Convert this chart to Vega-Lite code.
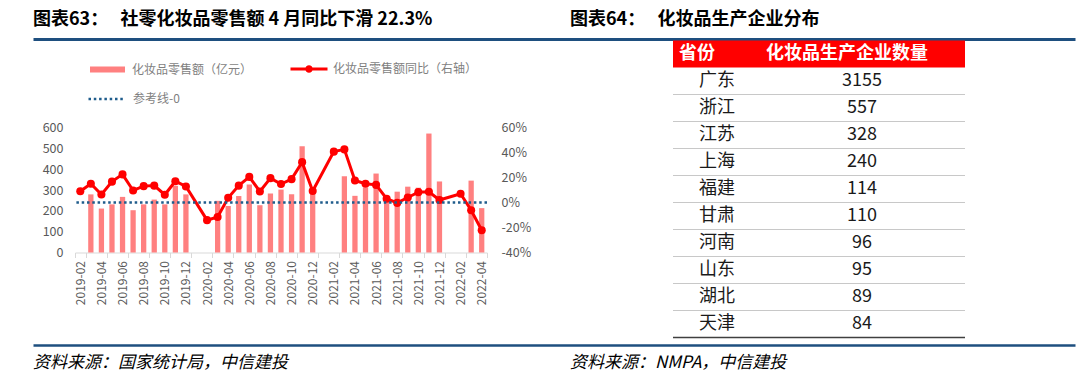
{
  "$schema": "https://vega.github.io/schema/vega-lite/v6.json",
  "background": "white",
  "padding": {"left": 33, "top": 0, "right": 5, "bottom": 0},
  "columns": 1,
  "align": "none",
  "spacing": 1.5,
  "bounds": "full",
  "config": {
    "view": {"stroke": null},
    "font": "Noto Sans CJK SC",
    "axis": {"labelFont": "Noto Sans CJK SC", "grid": false},
    "legend": {"labelFont": "Noto Sans CJK SC"}
  },
  "datasets": {
    "sales": [
      {"month": "2019-02", "sales": null, "yoy": 9.0},
      {"month": "2019-03", "sales": 279, "yoy": 15.0},
      {"month": "2019-04", "sales": 211, "yoy": 6.4},
      {"month": "2019-05", "sales": 231, "yoy": 16.7},
      {"month": "2019-06", "sales": 267, "yoy": 22.5},
      {"month": "2019-07", "sales": 203, "yoy": 9.6},
      {"month": "2019-08", "sales": 231, "yoy": 13.1},
      {"month": "2019-09", "sales": 254, "yoy": 13.5},
      {"month": "2019-10", "sales": 231, "yoy": 6.2},
      {"month": "2019-11", "sales": 320, "yoy": 17.0},
      {"month": "2019-12", "sales": 279, "yoy": 12.8},
      {"month": "2020-01", "sales": null, "yoy": null},
      {"month": "2020-02", "sales": null, "yoy": -14.1},
      {"month": "2020-03", "sales": 248, "yoy": -11.6},
      {"month": "2020-04", "sales": 223, "yoy": 3.8},
      {"month": "2020-05", "sales": 271, "yoy": 13.5},
      {"month": "2020-06", "sales": 327, "yoy": 20.5},
      {"month": "2020-07", "sales": 227, "yoy": 8.8},
      {"month": "2020-08", "sales": 283, "yoy": 19.5},
      {"month": "2020-09", "sales": 302, "yoy": 14.8},
      {"month": "2020-10", "sales": 280, "yoy": 18.7},
      {"month": "2020-11", "sales": 510, "yoy": 32.3},
      {"month": "2020-12", "sales": 295, "yoy": 9.2},
      {"month": "2021-01", "sales": null, "yoy": null},
      {"month": "2021-02", "sales": null, "yoy": 40.7},
      {"month": "2021-03", "sales": 366, "yoy": 42.5},
      {"month": "2021-04", "sales": 272, "yoy": 17.6},
      {"month": "2021-05", "sales": 312, "yoy": 15.0},
      {"month": "2021-06", "sales": 379, "yoy": 14.1},
      {"month": "2021-07", "sales": 255, "yoy": 3.0},
      {"month": "2021-08", "sales": 292, "yoy": -0.3},
      {"month": "2021-09", "sales": 316, "yoy": 4.0},
      {"month": "2021-10", "sales": 311, "yoy": 8.3},
      {"month": "2021-11", "sales": 571, "yoy": 8.6},
      {"month": "2021-12", "sales": 341, "yoy": 2.0},
      {"month": "2022-01", "sales": null, "yoy": null},
      {"month": "2022-02", "sales": null, "yoy": 7.0},
      {"month": "2022-03", "sales": 345, "yoy": -6.2},
      {"month": "2022-04", "sales": 213, "yoy": -22.2}
    ],
    "prov": [
      {"p": "广东", "n": 3155},
      {"p": "浙江", "n": 557},
      {"p": "江苏", "n": 328},
      {"p": "上海", "n": 240},
      {"p": "福建", "n": 114},
      {"p": "甘肃", "n": 110},
      {"p": "河南", "n": 96},
      {"p": "山东", "n": 95},
      {"p": "湖北", "n": 89},
      {"p": "天津", "n": 84}
    ]
  },
  "concat": [
    {
      "width": 1000,
      "height": 39,
      "data": {"values": [
        {"panel": "L", "t": "图表63：\u00a0\u00a0\u00a0社零化妆品零售额 4 月同比下滑 22.3%"},
        {"panel": "R", "t": "图表64：\u00a0\u00a0\u00a0化妆品生产企业分布"}
      ]},
      "mark": {"type": "text", "align": "left", "baseline": "middle", "fontSize": 18, "fontWeight": "bold", "color": "#000000"},
      "encoding": {
        "x": {"field": "panel", "type": "nominal", "bandPosition": 0,
          "scale": {"type": "band", "domain": ["L", "R"], "range": [-42, 1000], "paddingInner": 0.0596, "paddingOuter": 0},
          "axis": {"orient": "bottom", "domain": true, "domainColor": "#1E4F7F", "domainWidth": 3, "ticks": false, "labels": false, "title": null}},
        "text": {"field": "t"}
      }
    },
    {
      "hconcat": [
        {
          "width": 412,
          "height": 212,
          "data": {"name": "sales"},
          "layer": [
            {
              "mark": {"type": "bar", "width": {"band": 0.5}},
              "encoding": {
                "x": {"field": "month", "type": "ordinal",
                  "scale": {"domain": ["2019-02","2019-03","2019-04","2019-05","2019-06","2019-07","2019-08","2019-09","2019-10","2019-11","2019-12","2020-01","2020-02","2020-03","2020-04","2020-05","2020-06","2020-07","2020-08","2020-09","2020-10","2020-11","2020-12","2021-01","2021-02","2021-03","2021-04","2021-05","2021-06","2021-07","2021-08","2021-09","2021-10","2021-11","2021-12","2022-01","2022-02","2022-03","2022-04"], "paddingInner": 0, "paddingOuter": 0},
                  "axis": {"values": ["2019-02","2019-04","2019-06","2019-08","2019-10","2019-12","2020-02","2020-04","2020-06","2020-08","2020-10","2020-12","2021-02","2021-04","2021-06","2021-08","2021-10","2021-12","2022-02","2022-04"],
                    "tickBand": "extent", "labelAngle": -90, "labelFontSize": 12, "labelColor": "#595959", "domainColor": "#D9D9D9", "tickColor": "#D9D9D9", "tickSize": 5, "labelPadding": 3, "title": null}},
                "y": {"field": "sales", "type": "quantitative",
                  "scale": {"domain": [0, 1017.6], "nice": false, "zero": true},
                  "axis": {"orient": "left", "values": [0, 100, 200, 300, 400, 500, 600], "domain": false, "ticks": false, "labelFontSize": 12.5, "labelColor": "#595959", "labelPadding": 12, "title": null, "minExtent": 42}},
                "color": {"datum": "化妆品零售额（亿元）", "scale": {"range": ["#FF8080"]},
                  "legend": {"orient": "none", "legendX": 14, "legendY": 10.5, "title": null, "padding": 0,
                    "symbolType": "M-1,-0.17H1V0.17H-1Z", "symbolSize": 1225, "labelFontSize": 12, "labelColor": "#7F7F7F", "labelOffset": 6}}
              }
            },
            {
              "layer": [
                {
                  "transform": [{"filter": "datum.yoy != null"}],
                  "mark": {"type": "line", "strokeWidth": 3, "point": {"filled": true, "size": 65}},
                  "encoding": {
                    "x": {"field": "month", "type": "ordinal"},
                    "y": {"field": "yoy", "type": "quantitative",
                      "scale": {"domain": [-40, 129.6], "nice": false, "zero": false},
                      "axis": {"orient": "right", "values": [-40, -20, 0, 20, 40, 60], "labelExpr": "datum.value + '%'", "domain": false, "ticks": false, "labelFontSize": 12.5, "labelColor": "#595959", "labelPadding": 14, "title": null}},
                    "color": {"datum": "化妆品零售额同比（右轴）", "scale": {"range": ["#FF0000"]},
                      "legend": {"orient": "none", "legendX": 214, "legendY": 8.5, "title": null, "padding": 0,
                        "symbolType": "M-1,0H1M-0.12,0A0.12,0.12,0,1,0,0.12,0A0.12,0.12,0,1,0,-0.12,0", "symbolSize": 1369, "symbolStrokeWidth": 3, "symbolFillColor": "#FF0000", "labelFontSize": 12, "labelColor": "#7F7F7F", "labelOffset": 4}}
                  }
                },
                {
                  "data": {"values": [{"ref": 0}]},
                  "mark": {"type": "rule", "strokeWidth": 2.5, "strokeDash": [2.5, 2.8]},
                  "encoding": {
                    "y": {"field": "ref", "type": "quantitative"},
                    "color": {"datum": "参考线-0", "scale": {"range": ["#1F5C8C"]},
                      "legend": {"orient": "none", "legendX": 12, "legendY": 38.5, "title": null, "padding": 0,
                        "symbolType": "stroke", "symbolSize": 1369, "symbolStrokeWidth": 2.5, "symbolDash": [2.5, 2.8], "labelFontSize": 12, "labelColor": "#7F7F7F", "labelOffset": 6}}
                  }
                }
              ],
              "resolve": {"scale": {"color": "independent"}}
            }
          ],
          "resolve": {"scale": {"y": "independent", "color": "independent"}}
        },
        {
          "width": 292,
          "height": 297,
          "encoding": {
            "y": {"field": "p", "type": "ordinal",
              "scale": {"domain": ["省份","广东","浙江","江苏","上海","福建","甘肃","河南","山东","湖北","天津"], "paddingInner": 0, "paddingOuter": 0},
              "axis": null}
          },
          "layer": [
            {
              "data": {"values": [{"p": "省份"}]},
              "mark": {"type": "rect", "color": "#FF0000"},
              "encoding": {"x": {"value": 0}, "x2": {"value": "width"}}
            },
            {
              "data": {"name": "prov"},
              "transform": [{"filter": "datum.p != '天津'"}],
              "mark": {"type": "rule", "color": "#C8C8C8", "strokeWidth": 1},
              "encoding": {"y": {"field": "p", "type": "ordinal", "bandPosition": 1}}
            },
            {
              "data": {"name": "prov"},
              "transform": [{"filter": "datum.p == '天津'"}],
              "mark": {"type": "rule", "color": "#404040", "strokeWidth": 1.5},
              "encoding": {"y": {"field": "p", "type": "ordinal", "bandPosition": 1}}
            },
            {
              "data": {"name": "prov"},
              "mark": {"type": "text", "fontSize": 18, "color": "#1A1A1A", "dx": -29, "baseline": "middle"},
              "encoding": {
                "x": {"datum": "name", "type": "ordinal", "scale": {"domain": ["name", "value"], "paddingInner": 0, "paddingOuter": 0}, "axis": null},
                "text": {"field": "p"}
              }
            },
            {
              "data": {"name": "prov"},
              "mark": {"type": "text", "fontSize": 18, "color": "#1A1A1A", "dx": -30, "baseline": "middle"},
              "encoding": {
                "x": {"datum": "value", "type": "ordinal"},
                "text": {"field": "n"}
              }
            },
            {
              "data": {"values": [{"p": "省份", "t": "省份"}]},
              "mark": {"type": "text", "fontSize": 18, "fontWeight": "bold", "color": "#FFFFFF", "dx": -49, "baseline": "middle"},
              "encoding": {
                "x": {"datum": "name", "type": "ordinal"},
                "text": {"field": "t"}
              }
            },
            {
              "data": {"values": [{"p": "省份", "t": "化妆品生产企业数量"}]},
              "mark": {"type": "text", "fontSize": 18, "fontWeight": "bold", "color": "#FFFFFF", "dx": -45, "baseline": "middle"},
              "encoding": {
                "x": {"datum": "value", "type": "ordinal"},
                "text": {"field": "t"}
              }
            }
          ]
        }
      ],
      "spacing": 141
    },
    {
      "width": 1000,
      "height": 33,
      "data": {"values": [
        {"panel": "L", "t": "资料来源：国家统计局，中信建投"},
        {"panel": "R", "t": "资料来源：NMPA，中信建投"}
      ]},
      "mark": {"type": "text", "align": "left", "baseline": "middle", "fontSize": 17, "fontStyle": "italic", "color": "#000000", "dy": 6},
      "encoding": {
        "x": {"field": "panel", "type": "nominal", "bandPosition": 0,
          "scale": {"type": "band", "domain": ["L", "R"], "range": [-42, 1000], "paddingInner": 0.0596, "paddingOuter": 0},
          "axis": {"orient": "top", "domain": true, "domainColor": "#1E4F7F", "domainWidth": 2.5, "ticks": false, "labels": false, "title": null, "offset": -5}},
        "text": {"field": "t"}
      }
    }
  ]
}
